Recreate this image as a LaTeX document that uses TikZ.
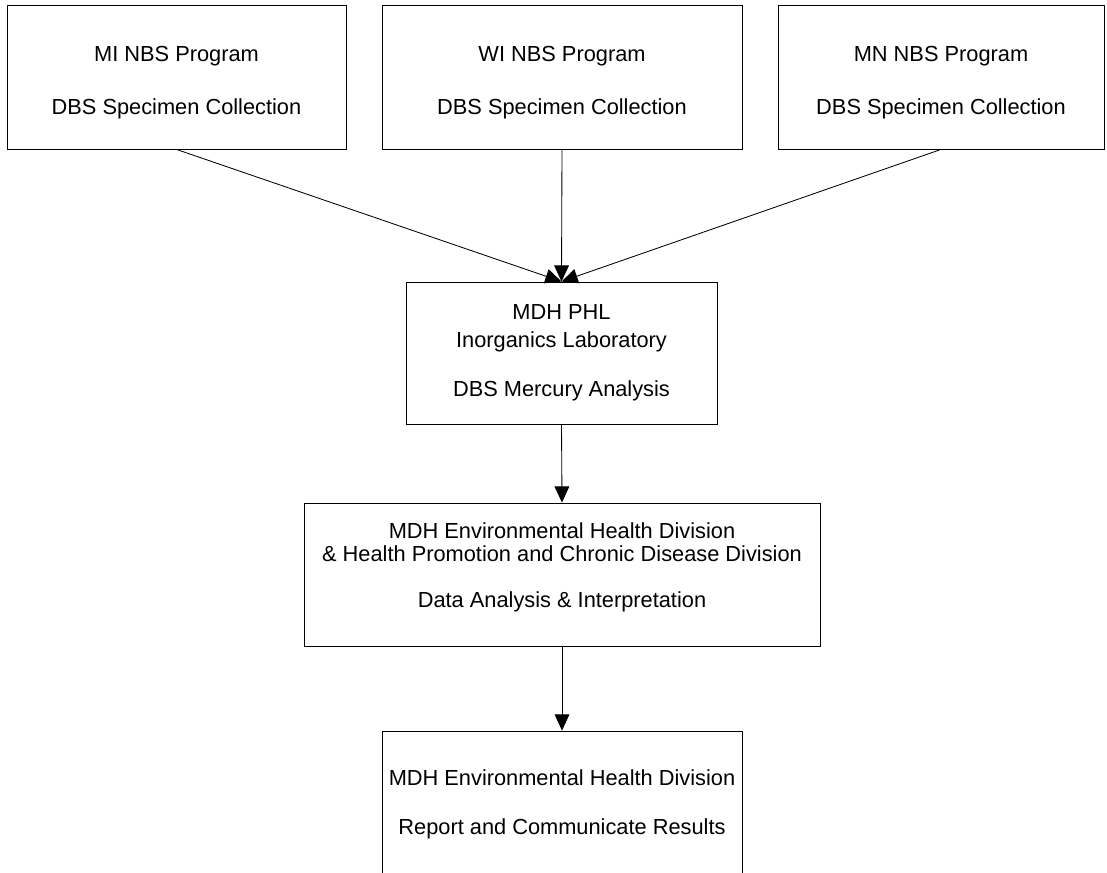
\documentclass[tikz,border=0pt]{standalone}
\usepackage{fontspec}
\setmainfont{Liberation Sans}
\usetikzlibrary{arrows.meta}

\begin{document}
\begin{tikzpicture}[x=0.025cm,y=-0.025cm]
      \useasboundingbox (0,0) rectangle (1107,873);
      \clip (0,0) rectangle (1107,873);
      \begin{scope}[every node/.style={rectangle, draw, line width=0.6pt, align=center, inner sep=0pt,
          minimum height=3.6cm, font=\fontsize{15.5}{16.4}\selectfont}]
        \node [minimum width=8.475cm] (mi) at (176.5,77) {MI NBS Program\\[21.3pt] DBS Specimen Collection\\[-21pt]\mbox{}};
        \node [minimum width=9cm] (wi) at (562,77) {WI NBS Program\\[21.3pt] DBS Specimen Collection\\[-21pt]\mbox{}};
        \node [minimum width=8.15cm] (mn) at (941,77) {MN NBS Program\\[21.3pt] DBS Specimen Collection\\[-21pt]\mbox{}};
        \node [minimum width=7.775cm, minimum height=3.55cm] (phl) at (561.5,353) {MDH PHL\\[3.5pt] Inorganics Laboratory\\[18.5pt] DBS Mercury Analysis};
        \node [minimum width=12.9cm, minimum height=3.575cm] (ehd) at (562,574.5) {MDH Environmental Health Division\\ \& Health Promotion and Chronic Disease Division\\[16.3pt] Data Analysis \& Interpretation\\[-3.6pt] \mbox{}};
        \node [minimum width=9cm, minimum height=3.65cm] (rep) at (562,804) {MDH Environmental Health Division\\[18.5pt] Report and Communicate Results};
      \end{scope}

      \begin{scope}[-{Triangle[length=11.5pt,width=10.5pt]}, line width=0.6pt]
        \draw (mi.south) to (phl.north);
        \draw (wi.south) to (phl.north);
        \draw (mn.south) to (phl.north);
        \draw (phl.south) to (ehd.north);
        \draw (ehd.south) to (rep.north);
      \end{scope}
   \end{tikzpicture}
\end{document}
